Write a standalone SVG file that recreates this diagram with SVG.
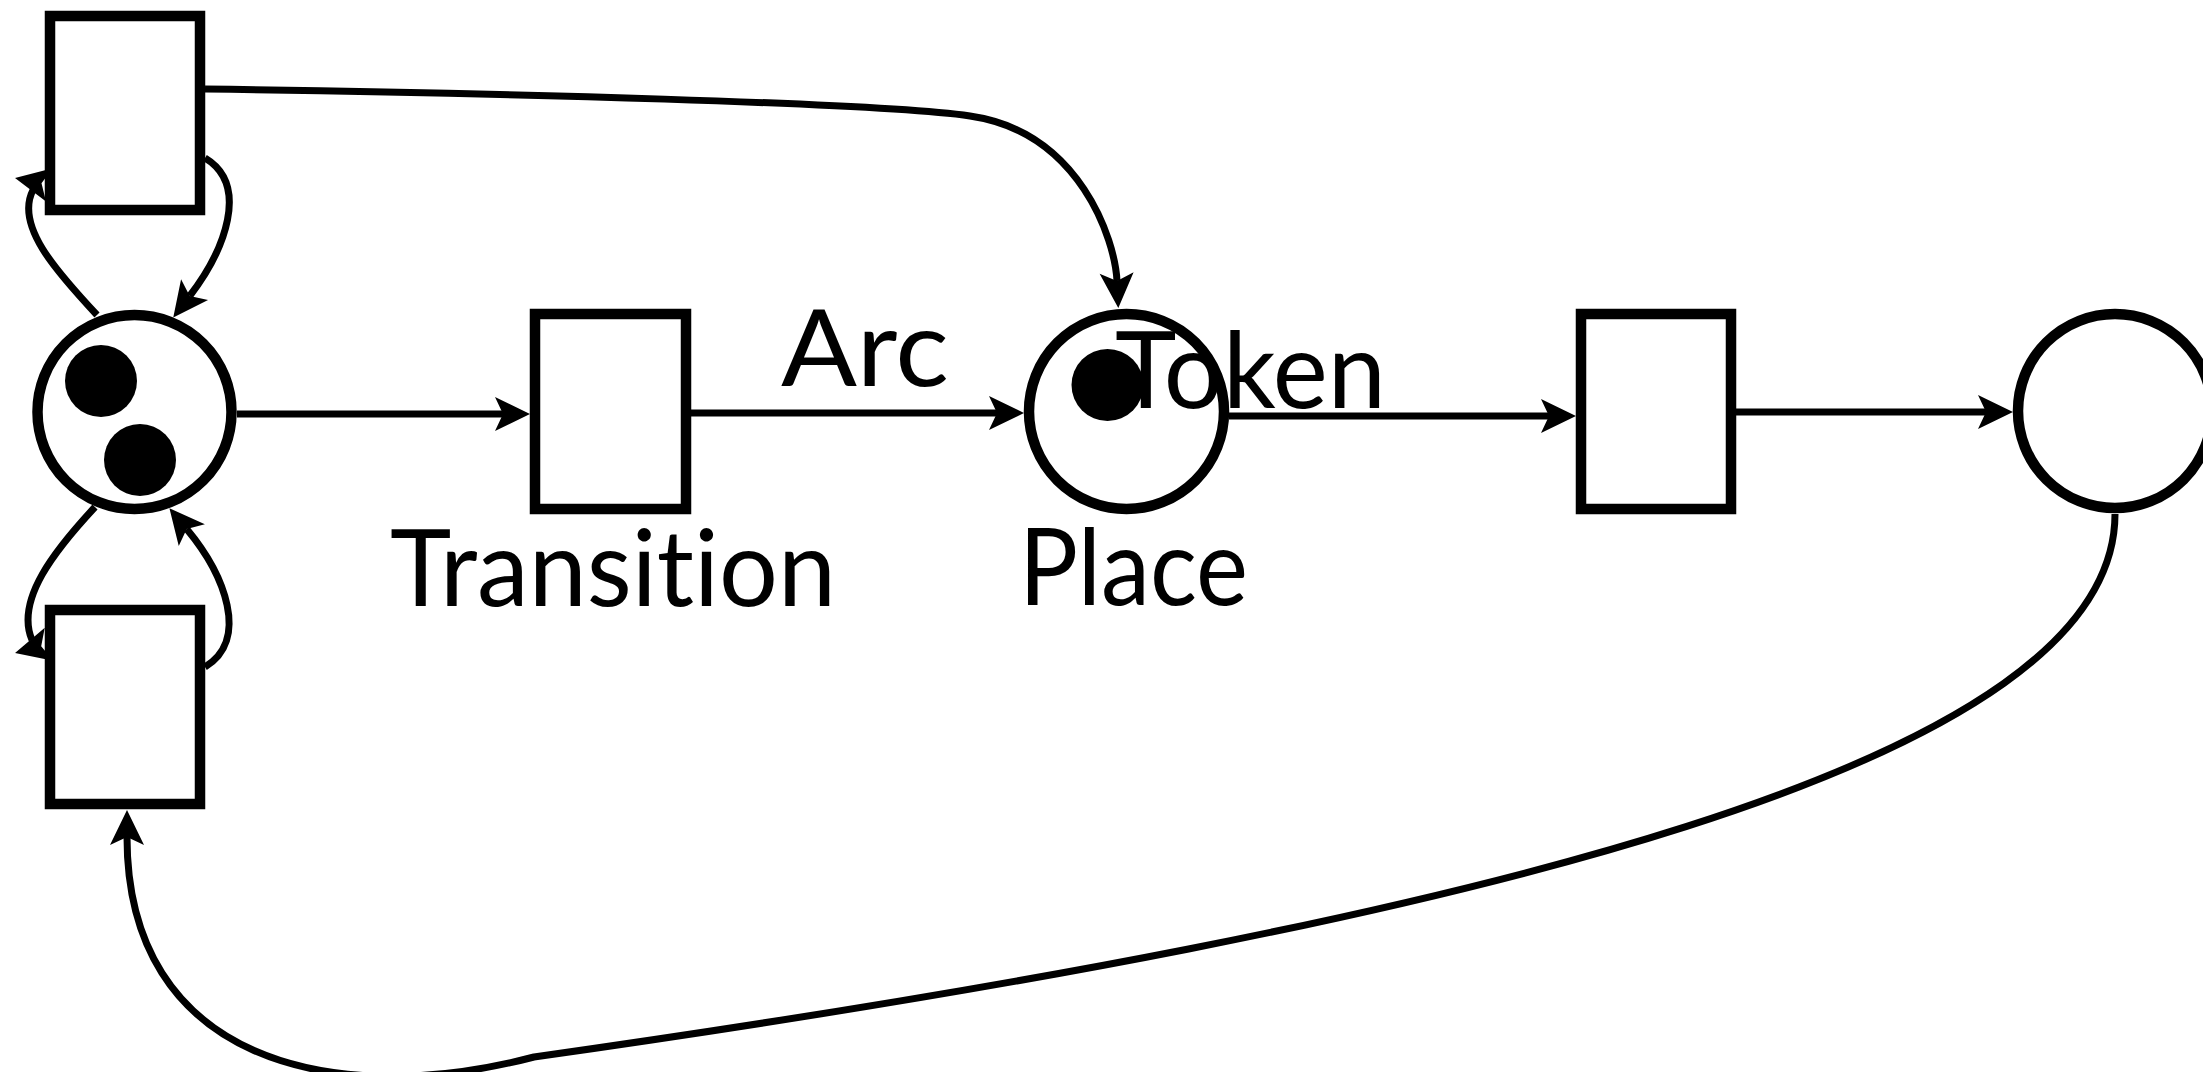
<svg xmlns="http://www.w3.org/2000/svg" width="2203" height="1072" viewBox="0 0 2203 1072">
<style>
.node{fill:#fff;stroke:#000;stroke-width:10.5}
.tok{fill:#000}
.arc{fill:none;stroke:#000;stroke-width:7}
.end{marker-end:url(#ah)}
.lbl{font-family:Lato,"Liberation Sans",sans-serif;font-size:107px;fill:#000;font-variant-ligatures:none;font-feature-settings:"liga" 0,"clig" 0}
</style>
<defs>
<marker id="ah" markerUnits="userSpaceOnUse" markerWidth="40" markerHeight="40" viewBox="-10 -20 40 40" refX="0" refY="0" orient="auto">
<path d="M27,0 L-8,-17 L0,0 L-8,17 Z" fill="#000"/>
</marker>
<path id="head" d="M27,0 L-8,-17 L0,0 L-8,17 Z" fill="#000"/>
</defs>
<rect width="2203" height="1072" fill="#fff"/>
<g id="t-top"><rect class="node" x="50" y="16" width="150" height="194"/></g>
<g id="t-bottom"><rect class="node" x="50" y="610" width="150" height="194"/></g>
<g id="p1"><circle class="node" cx="134.5" cy="412" r="97"/><circle class="tok" cx="101" cy="381" r="36"/><circle class="tok" cx="140" cy="460" r="36"/></g>
<g id="t1"><rect class="node" x="535" y="314" width="151" height="195"/></g>
<g id="p2"><circle class="node" cx="1126.5" cy="411.5" r="97.5"/><circle class="tok" cx="1107.5" cy="385" r="36"/></g>
<g id="t3"><rect class="node" x="1581" y="314" width="150" height="195"/></g>
<g id="p4"><circle class="node" cx="2115" cy="411" r="97"/></g>
<g id="connectors">
<path class="arc end" d="M237 414 L503 414"/>
<path class="arc end" d="M691 413 L997 413"/>
<path class="arc end" d="M1229 416 L1549 416"/>
<path class="arc end" d="M1736 412 L1986 412"/>
<path class="arc end" d="M205 89 C500 93 880 103 970 116 C1080 132 1115 240 1117 281"/>
<path class="arc end" d="M2115 514 C2115 760 1500 920 534 1057 C330 1110 127 1060 127 837"/>
<path class="arc end" d="M205 158 C250 185 225 250 189.7 296"/>
<path class="arc end" d="M205 667 C250 640 225 575 186.7 529"/>
<path class="arc" d="M97 315 C55 270 15 225 33 190"/>
<use href="#head" transform="translate(41.5 183.3) rotate(191.3)"/>
<path class="arc" d="M95 507 C55 550 15 600 32 640"/>
<use href="#head" transform="translate(41.2 646.3) rotate(165.7)"/>
</g>
<g id="labels">
<text class="lbl" x="781" y="386" textLength="168" lengthAdjust="spacingAndGlyphs">Arc</text>
<text class="lbl" x="1115" y="408" textLength="271" lengthAdjust="spacingAndGlyphs">Token</text>
<text class="lbl" x="390" y="606" textLength="446" lengthAdjust="spacingAndGlyphs">Transition</text>
<text class="lbl" x="1019" y="605" textLength="229" lengthAdjust="spacingAndGlyphs">Place</text>
</g>
</svg>
